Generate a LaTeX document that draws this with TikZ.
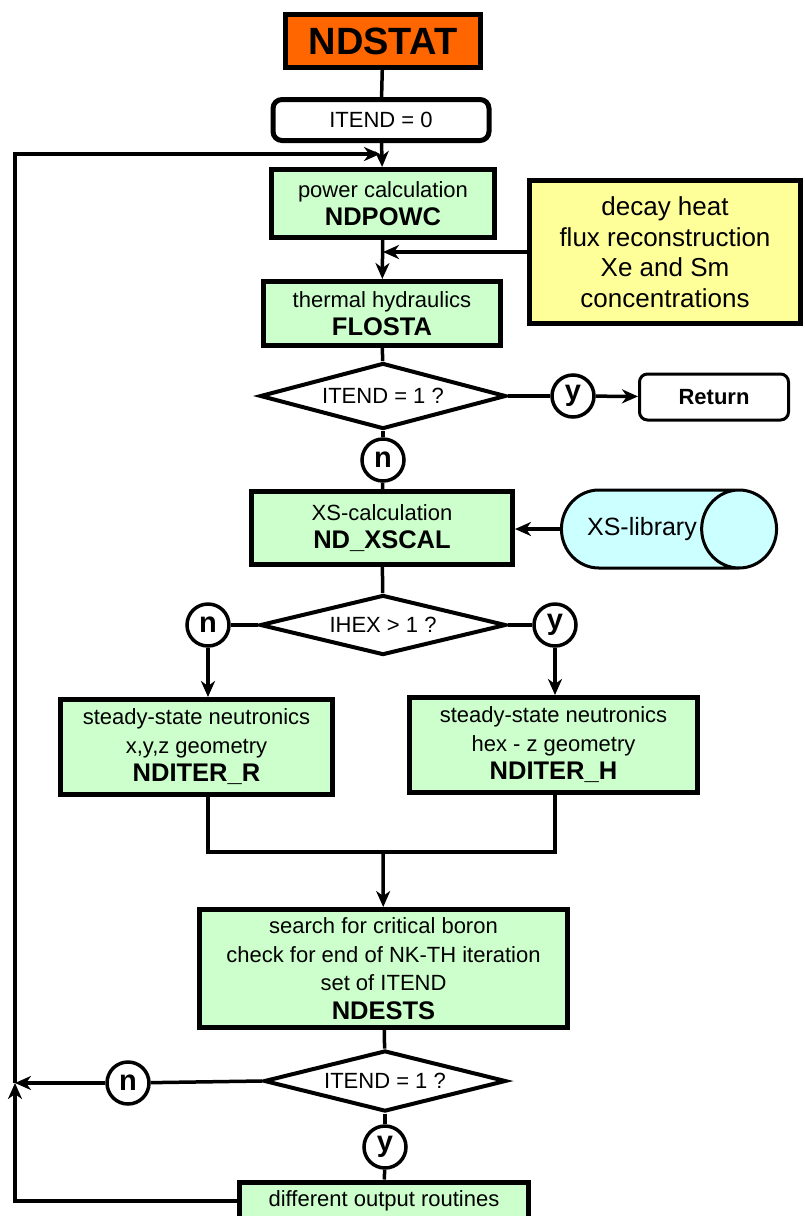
\documentclass[tikz,border=0pt]{standalone}
\usepackage{fontspec}
\setmainfont{Liberation Sans}
\usetikzlibrary{shapes.geometric,arrows.meta}
\definecolor{NDOrange}{HTML}{FF6600}
\definecolor{NDGreen}{HTML}{CCFFCC}
\definecolor{NDYellow}{HTML}{FFFF99}
\definecolor{NDCyan}{HTML}{CCFFFF}
\newcommand{\modname}[1]{{\fontsize{25.5}{29}\selectfont\bfseries #1}}
\tikzset{
  routine/.style={draw, line width=5pt, fill=NDGreen, align=center, inner sep=0pt,
    font=\fontsize{22}{28.5}\selectfont},
  decide/.style={draw, diamond, line width=4pt, fill=white, inner sep=0pt, aspect=3.6,
    font=\fontsize{22}{26}\selectfont},
  answer/.style={draw, circle, line width=3.5pt, fill=white, minimum size=42pt, inner sep=0pt,
    font=\fontsize{29}{30}\selectfont\bfseries},
  flow/.style={line width=3.5pt},
  flowarrow/.style={line width=3.5pt, -{Stealth[length=16pt,width=14pt,inset=5pt]}},
}

\begin{document}
\begin{tikzpicture}[x=1pt,y=-1pt]
    \useasboundingbox (0,0) rectangle (805,1216);
    % main chain
    \node[draw, line width=4.5pt, fill=NDOrange, minimum width=195pt, minimum height=53pt,
      font=\fontsize{38}{40}\selectfont\bfseries] at (383,41) (ndstat) {NDSTAT};
    \node[draw, line width=5pt, rounded corners=9pt, minimum width=216pt, minimum height=41pt,
      font=\fontsize{22}{26}\selectfont] at (381,120) (itend0) {ITEND = 0};
    \node[routine, minimum width=223pt, minimum height=68pt] at (383,203.5) (powc)
      {power calculation\\\modname{NDPOWC}};
    \node[draw, line width=5pt, fill=NDYellow, align=center, minimum width=271pt, minimum height=143pt,
      font=\fontsize{26}{30.5}\selectfont] at (665,252) (decay)
      {decay heat\\flux reconstruction\\Xe and Sm\\concentrations};
    \node[routine, minimum width=237pt, minimum height=64pt] at (382,313.5) (flosta)
      {thermal hydraulics\\\modname{FLOSTA}};
    \node[decide, minimum width=246pt, minimum height=66pt] at (383,396) (dec1) {ITEND = 1 ?};
    \node[answer] at (573,396) (yes1) {y};
    \node[draw, line width=3pt, rounded corners=8pt, minimum width=149pt, minimum height=46pt,
      font=\fontsize{22}{26}\selectfont\bfseries] at (714,397) (ret) {Return};
    \node[answer] at (383,460) (no1) {n};
    \node[routine, minimum width=261pt, minimum height=73pt] at (382,528) (xscal)
      {XS-calculation\\\modname{ND\_XSCAL}};
    % cylinder lies on its side: width and height swap
    \node[cylinder, draw, line width=3pt, fill=NDCyan, aspect=2.5, minimum width=78pt,
      minimum height=212pt, anchor=shape center, font=\fontsize{25}{28}\selectfont]
      at (669,529) (xslib) {XS-library};
    \node[decide, minimum width=246pt, minimum height=60pt] at (383,625) (dec2) {IHEX > 1 ?};
    \node[answer] at (208,625) (no2) {n};
    \node[answer] at (555,625) (yes2) {y};
    \node[routine, minimum width=272pt, minimum height=95pt] at (196.5,747) (iterr)
      {steady-state neutronics\\x,y,z geometry\\\modname{NDITER\_R}};
    \node[routine, minimum width=288pt, minimum height=95pt] at (553.5,745) (iterh)
      {steady-state neutronics\\hex - z geometry\\\modname{NDITER\_H}};
    \coordinate (merge) at (383,852);
    \node[routine, minimum width=368pt, minimum height=118pt] at (383.5,968.5) (ndests)
      {search for critical boron\\check for end of NK-TH iteration\\set of ITEND\\\modname{NDESTS}};
    \node[decide, minimum width=242pt, minimum height=61pt] at (385,1081) (dec3) {ITEND = 1 ?};
    \node[answer] at (128,1083) (no3) {n};
    \node[answer] at (385,1147) (yes3) {y};
    \node[routine, minimum width=289pt, minimum height=38pt] at (384,1201) (outp)
      {different output routines};
    % loop back
    \coordinate (joint) at (15,1083);
    \coordinate (entry) at (383,154);
    % connectors
    \draw[flow] (ndstat) -- (itend0);
    \draw[flowarrow] (itend0) -- (powc);
    \draw[flowarrow] (powc) -- (flosta);
    \draw[flowarrow] (decay.west) -- (decay.west -| powc.south);
    \draw[flow] (flosta) -- (dec1);
    \draw[flow] (dec1.east) -- (yes1);
    \draw[flowarrow] (yes1) -- (ret);
    \draw[flow] (dec1.south) -- (no1);
    \draw[flow] (no1) -- (xscal);
    \draw[flowarrow] (xslib.west) -- (xscal.east |- xslib.west);
    \draw[flow] (xscal) -- (dec2);
    \draw[flow] (dec2.west) -- (no2);
    \draw[flow] (dec2.east) -- (yes2);
    \draw[flowarrow] (no2) -- (no2 |- iterr.north);
    \draw[flowarrow] (yes2) -- (yes2 |- iterh.north);
    \draw[flow] (no2 |- iterr.south) |- (merge) -| (yes2 |- iterh.south);
    \draw[flowarrow] (merge) -- (ndests);
    \draw[flow] (ndests) -- (dec3);
    \draw[flow] (dec3.south) -- (yes3);
    \draw[flow] (yes3) -- (outp);
    \draw[flow] (dec3.west) -- (no3);
    \draw[flowarrow] (no3) -- (joint);
    \draw[flowarrow] (outp.west) -| (joint);
    \draw[flowarrow, shorten >=3pt] (joint) |- (entry);
\end{tikzpicture}
\end{document}
